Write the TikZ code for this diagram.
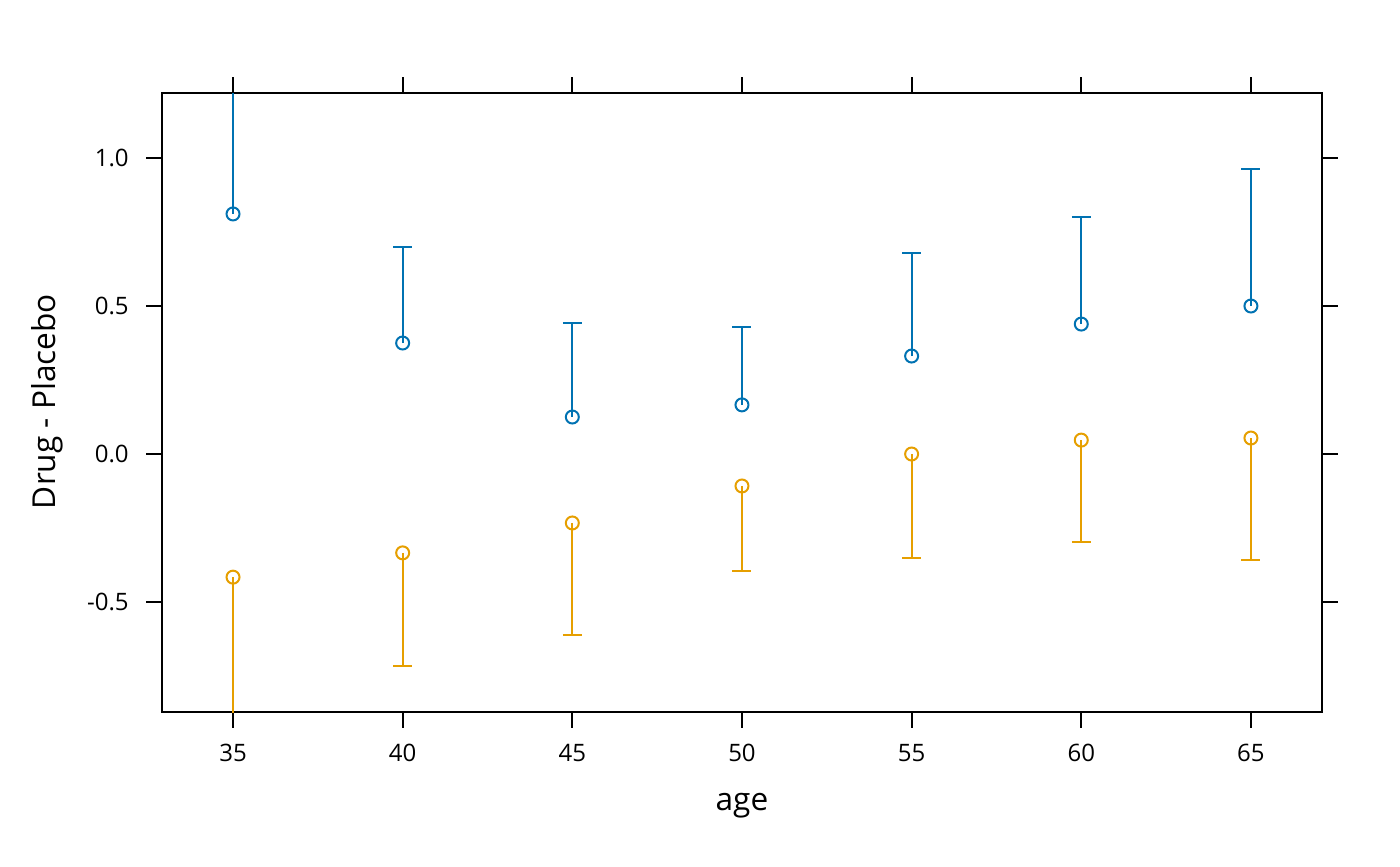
\documentclass[tikz,border=0pt]{standalone}
\usepackage{fontspec}
\setmainfont{Open Sans}
\definecolor{drugblue}{HTML}{0072B2}
\definecolor{placorange}{HTML}{E69F00}

\begin{document}
\begin{tikzpicture}[x=16.965pt, y=148pt, font=\fontsize{12}{14}\selectfont,
  axisline/.style={line width=1pt, black},
  ciline/.style={line width=1pt},
  axislabel/.style={anchor=base, inner sep=0pt, font=\fontsize{15.8}{19}\selectfont}]
\useasboundingbox (28.133,-1.3919) rectangle (69.394,1.5338);
% panel and ticks
\draw [axisline] (32.907,-0.8716) rectangle (67.095,1.2196);
\foreach \a in {35,40,...,65} {
  \draw [axisline] (\a,-0.8716) -- ++(0,-8pt);
  \draw [axisline] (\a,1.2196) -- ++(0,8pt);
  \node [anchor=base, inner sep=0pt] (xt\a) at (\a,-1.0372) {\a};
}
\foreach \v/\t in {1/1.0,0.5/0.5,0/0.0,-0.5/-0.5} {
  \draw [axisline] (32.907,\v) -- ++(-8pt,0);
  \draw [axisline] (67.095,\v) -- ++(8pt,0);
  \node [anchor=east, inner sep=0pt] at (31.935,\v) {\t};
}
\node [axislabel] (xlab) at (50,-1.2027) {age};
\node [axislabel, rotate=90] (ylab) at (29.754,0.1774) {Drug - Placebo};
% intervals
\begin{scope}
\clip (32.907,-0.8716) rectangle (67.095,1.2196);
\foreach \a/\m/\u in {35/0.811/1.30,40/0.375/0.699,45/0.125/0.443,50/0.166/0.429,55/0.331/0.679,60/0.439/0.800,65/0.500/0.963} {
  \draw [ciline, drugblue] (\a,\m) -- (\a,\u);
  \draw [ciline, drugblue] (\a,\u) ++(-4.75pt,0) -- ++(9.5pt,0);
  \draw [ciline, drugblue] (\a,\m) circle (3.25pt);
}
\foreach \a/\m/\l in {35/-0.416/-1.0,40/-0.334/-0.716,45/-0.233/-0.611,50/-0.108/-0.395,55/0.0/-0.351,60/0.047/-0.297,65/0.054/-0.358} {
  \draw [ciline, placorange] (\a,\m) -- (\a,\l);
  \draw [ciline, placorange] (\a,\l) ++(-4.75pt,0) -- ++(9.5pt,0);
  \draw [ciline, placorange] (\a,\m) circle (3.25pt);
}
\end{scope}
\end{tikzpicture}
\end{document}
